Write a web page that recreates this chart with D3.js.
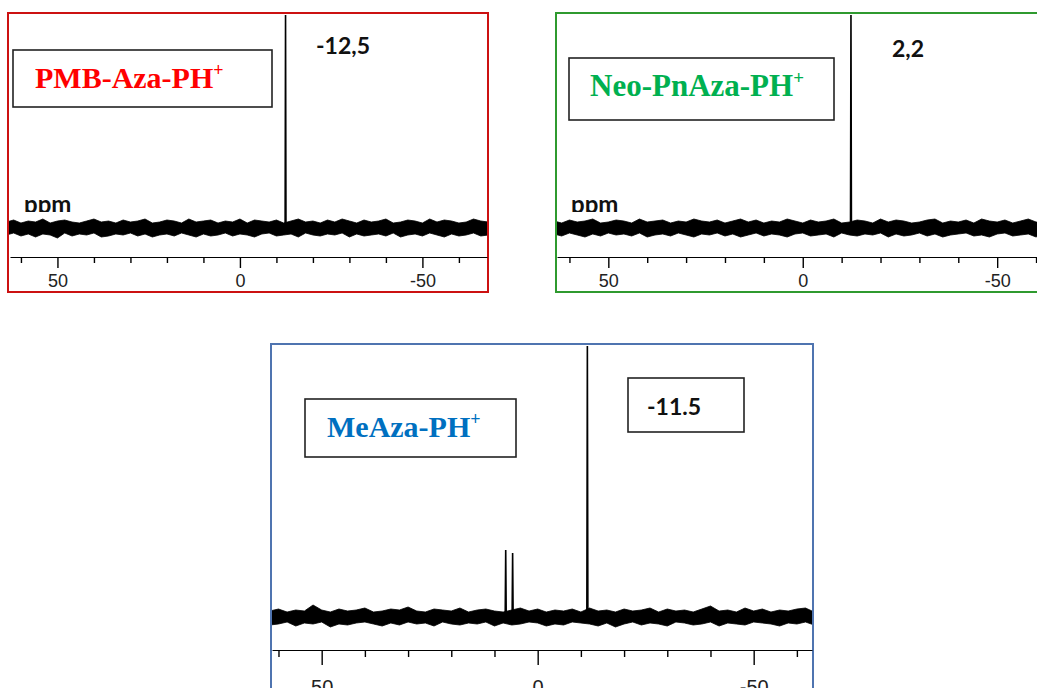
<!DOCTYPE html>
<html>
<head>
<meta charset="utf-8">
<script src="https://cdn.jsdelivr.net/npm/d3@7"></script>
<style>
body{margin:0;background:#fff;}
svg{display:block;}
</style>
</head>
<body>
<div id="chart"></div>
<script>

// ppm tick values
var tickMajor = [50, 0, -50];
var tickMinor = [60, 40, 30, 20, 10, -10, -20, -30, -40, -60];

// compound names and shift labels
var names = ["PMB-Aza-PH", "Neo-PnAza-PH", "MeAza-PH"];
var shiftLabels = ["-12,5", "2,2", "-11.5"];

// peaks: [ppm, height]
var peaks1 = [[-12.5, 213]];
var peaks2 = [[-12.4, 213]];
var peaks3 = [[7.4, 67], [5.8, 64], [-11.5, 272]];

// noise envelope, one value every 2 ppm from 64 down to -68 (above / below baseline)
var noiseUp1 = [6,8,5,7,6,9,5,7,8,6, 5,7,9,6,7,5,8,6,7,9, 5,6,8,7,5,9,6,7,8,5, 7,6,9,5,8,7,6,8,5,7, 9,6,7,5,8,6,9,7,5,8, 6,7,9,5,6,8,7,5,9,6, 8,7,5,6,9,7,6];
var noiseLow1 = [7,5,8,6,9,6,7,10,5,8, 6,7,5,9,8,6,7,5,8,6, 9,7,6,8,5,7,9,6,8,7, 5,8,6,7,9,6,5,8,7,6, 9,5,7,8,6,7,5,9,6,8, 7,6,8,5,9,7,6,8,5,7, 9,6,8,7,5,8,7];
var noiseUp2 = [7,5,8,6,7,9,5,6,8,7, 5,9,6,7,8,5,7,6,9,7, 6,8,5,7,9,6,8,5,7,6, 9,7,5,8,6,7,9,5,6,8, 7,5,9,6,8,7,5,6,8,9, 5,7,6,8,5,9,7,6,8,5, 7,9,6,5,8,7,6];
var noiseLow2 = [6,8,5,7,9,6,8,5,7,6, 8,5,9,7,6,8,5,7,9,6, 7,5,8,6,9,7,5,8,6,7, 9,6,5,8,7,6,9,5,7,8, 6,7,5,9,6,8,7,5,8,6, 9,7,6,5,8,7,9,6,5,8, 7,6,9,5,7,8,6];
var noiseUp3 = [7,6,8,5,7,6,12,7,5,8, 6,7,9,5,6,8,7,10,6,5, 8,7,6,9,5,7,8,6,5,7, 9,6,8,5,7,6,8,5,9,6, 7,5,8,6,7,9,5,8,6,7, 5,8,11,6,7,5,9,6,8,5, 7,6,8,9,5,7,6];
var noiseLow3 = [6,8,7,5,9,6,7,5,10,7, 8,6,5,7,9,6,8,5,7,6, 9,5,7,8,6,7,5,9,6,8, 7,5,6,9,7,8,5,6,7,9, 6,10,7,5,8,6,7,9,5,6, 8,7,5,9,6,7,8,5,6,7, 9,6,7,5,8,6,7];

var panels = [
  {frame:{x:8, y:13, w:480, h:279}, frameColor:"#cc1111", xRange:[10, 487], domain:[63, -67.7],
   base:228, axisY:257, majorLen:11, minorLen:6, fontSize:18, labelY:287,
   box:{x:13, y:50, w:259, h:57}, nameX:35, nameY:88, nameSize:30, nameColor:"#ff0000",
   shift:{x:316, y:54}, ppm:{x:24, y:213, clip:212},
   peaks:peaks1, up:noiseUp1, low:noiseLow1, name:names[0], label:shiftLabels[0]},
  {frame:{x:556, y:13, w:500, h:279}, frameColor:"#2f9a2f", xRange:[557, 1045], domain:[63.2, -62.3],
   base:228, axisY:257, majorLen:11, minorLen:6, fontSize:18, labelY:287,
   box:{x:569, y:58, w:265, h:62}, nameX:590, nameY:96, nameSize:31, nameColor:"#00b050",
   shift:{x:892, y:57}, ppm:{x:571, y:213, clip:212},
   peaks:peaks2, up:noiseUp2, low:noiseLow2, name:names[1], label:shiftLabels[1]},
  {frame:{x:271, y:344, w:542, h:360}, frameColor:"#4f74b0", xRange:[272, 812], domain:[61.5, -63.5],
   base:617, axisY:650, majorLen:15, minorLen:7, fontSize:20, labelY:694,
   box:{x:305, y:399, w:211, h:58}, nameX:327, nameY:437, nameSize:30, nameColor:"#0070c0",
   shift:{x:647, y:415, box:{x:628, y:378, w:116, h:54}}, ppm:null,
   peaks:peaks3, up:noiseUp3, low:noiseLow3, name:names[2], label:shiftLabels[2]}
];

var svg = d3.select("#chart").append("svg")
  .attr("width", 1037)
  .attr("height", 688);

var defs = svg.append("defs");

panels.forEach(function(p, k){
  var x = d3.scaleLinear().domain(p.domain).range(p.xRange);
  var y = d3.scaleLinear().domain([0, 100]).range([p.base, p.base - 100]);

  defs.append("clipPath").attr("id", "clip" + k)
    .append("rect")
    .attr("x", p.frame.x + 1).attr("y", p.frame.y + 2)
    .attr("width", p.frame.w - 2).attr("height", p.frame.h - 3);

  var g = svg.append("g");

  // frame
  g.append("rect")
    .attr("x", p.frame.x).attr("y", p.frame.y)
    .attr("width", p.frame.w).attr("height", p.frame.h)
    .attr("fill", "none")
    .attr("stroke", p.frameColor)
    .attr("stroke-width", 2);

  var spec = g.append("g").attr("clip-path", "url(#clip" + k + ")");

  // noise band
  var area = d3.area()
    .x(function(d, i){ return x(64 - 2 * i); })
    .y0(function(d, i){ return y(-p.low[i]); })
    .y1(function(d){ return y(d); });
  spec.append("path")
    .datum(p.up)
    .attr("d", area)
    .attr("fill", "#000")
    .attr("stroke", "#000")
    .attr("stroke-width", 0.8);

  // peaks
  var line = d3.line()
    .x(function(d){ return x(d[0]); })
    .y(function(d){ return y(d[1]); });
  p.peaks.forEach(function(pk){
    spec.append("path")
      .datum([[pk[0] + 0.12, 0], [pk[0], pk[1]], [pk[0] - 0.12, 0]])
      .attr("d", line)
      .attr("fill", "none")
      .attr("stroke", "#000")
      .attr("stroke-width", 1.6);
  });

  // axis, minor then major ticks
  var axG = g.append("g").attr("transform", "translate(0," + p.axisY + ")");
  axG.call(d3.axisBottom(x).tickValues(tickMinor).tickSize(p.minorLen).tickFormat("").tickSizeOuter(0));
  var axM = g.append("g").attr("transform", "translate(0," + p.axisY + ")");
  axM.call(d3.axisBottom(x).tickValues(tickMajor).tickSize(p.majorLen).tickSizeOuter(0)
    .tickFormat(function(d){ return String(d); }));
  axM.select(".domain").remove();
  svg.selectAll(".tick line").attr("stroke", "#000").attr("stroke-width", 1.4);
  axG.select(".domain").attr("stroke", "#000").attr("stroke-width", 1);
  axM.selectAll(".tick text")
    .attr("y", p.labelY - p.axisY)
    .attr("dy", 0)
    .attr("fill", "#222")
    .style("font-family", "'Liberation Sans', Arial, sans-serif")
    .style("font-size", p.fontSize + "px");

  // name box
  g.append("rect")
    .attr("x", p.box.x).attr("y", p.box.y)
    .attr("width", p.box.w).attr("height", p.box.h)
    .attr("fill", "#fff")
    .attr("stroke", "#222")
    .attr("stroke-width", 1.6);
  var t = g.append("text")
    .attr("x", p.nameX).attr("y", p.nameY)
    .attr("fill", p.nameColor)
    .style("font-family", "'Liberation Serif', 'Times New Roman', serif")
    .style("font-weight", "bold")
    .style("font-size", p.nameSize + "px");
  t.append("tspan").text(p.name);
  t.append("tspan").text("+")
    .attr("dy", -Math.round(p.nameSize * 0.4))
    .style("font-size", Math.round(p.nameSize * 0.6) + "px");

  // shift label
  if (p.shift.box) {
    g.append("rect")
      .attr("x", p.shift.box.x).attr("y", p.shift.box.y)
      .attr("width", p.shift.box.w).attr("height", p.shift.box.h)
      .attr("fill", "#fff")
      .attr("stroke", "#222")
      .attr("stroke-width", 1.6);
  }
  g.append("text")
    .attr("x", p.shift.x).attr("y", p.shift.y)
    .text(p.label)
    .attr("fill", "#111")
    .style("font-family", "Lato, 'Open Sans', sans-serif")
    .style("font-weight", "bold")
    .style("font-size", "23px");

  // ppm, cut by the spectrum band
  if (p.ppm) {
    defs.append("clipPath").attr("id", "ppmclip" + k)
      .append("rect")
      .attr("x", p.ppm.x - 5).attr("y", p.ppm.clip - 30)
      .attr("width", 80).attr("height", 30);
    g.append("text")
      .attr("clip-path", "url(#ppmclip" + k + ")")
      .attr("x", p.ppm.x).attr("y", p.ppm.y)
      .text("ppm")
      .attr("fill", "#111")
      .style("font-family", "Lato, 'Open Sans', sans-serif")
      .style("font-weight", "bold")
      .style("font-size", "24px");
  }
});

</script>
</body>
</html>
